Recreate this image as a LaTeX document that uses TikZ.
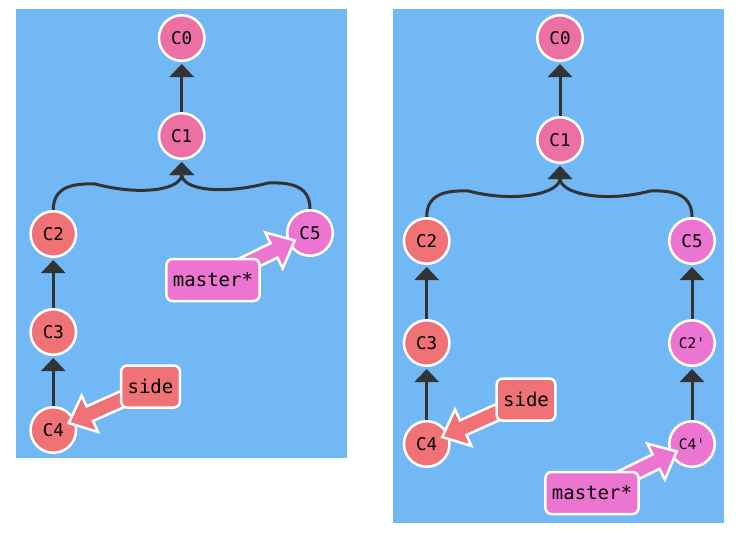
\documentclass[tikz,border=0pt]{standalone}
\usepackage{fontspec}
\setmonofont{DejaVu Sans Mono}
\usetikzlibrary{arrows.meta,calc}
\definecolor{bgblue}{RGB}{113,184,245}
\definecolor{rootpink}{RGB}{237,112,165}
\definecolor{sidered}{RGB}{239,114,118}
\definecolor{masterpink}{RGB}{236,117,209}
\definecolor{edgegray}{RGB}{51,51,51}
\pgfdeclarelayer{front}
\pgfsetlayers{main,front}
\newcommand{\branchptr}[3]{%
  \coordinate (ptip) at ($(#2)!17pt!(#1)$);
  \coordinate (pbase) at ($(ptip)!23pt!(#1)$);
  \filldraw[fill=#3,draw=white,line width=2.5pt]
    ($(#1)!8pt!90:(#2)$) -- ($(pbase)!8pt!90:(ptip)$) -- ($(pbase)!20pt!90:(ptip)$) -- (ptip)
    -- ($(pbase)!20pt!-90:(ptip)$) -- ($(pbase)!8pt!-90:(ptip)$) -- ($(#1)!8pt!-90:(#2)$) -- cycle;
}
\begin{document}
\begin{tikzpicture}[x=1pt,y=-1pt,
    commit/.style={circle,draw=white,line width=2.5pt,minimum size=45.5pt,inner sep=0pt,
      font=\ttfamily\fontsize{17.5}{19}\selectfont},
    rebased/.style={commit,fill=masterpink,font=\ttfamily\fontsize{14.5}{16}\selectfont},
    branch/.style={rounded corners=6pt,draw=white,line width=2.5pt,minimum height=42pt,
      inner xsep=6.5pt,font=\ttfamily\fontsize{19}{21}\selectfont},
    parent/.style={edgegray,line width=3pt,-{Triangle[width=24pt,length=13pt]},shorten >=2pt}]
    \useasboundingbox (0,0) rectangle (736,542);
    \fill[bgblue] (16,9) rectangle (347,458);
    \fill[bgblue] (393,9) rectangle (724,523);
    % before
    \node[commit,fill=rootpink] (lc0) at (181.7,38) {C0};
    \node[commit,fill=rootpink] (lc1) at (181.7,136) {C1};
    \node[commit,fill=sidered] (lc2) at (53.3,234) {C2};
    \node[commit,fill=sidered] (lc3) at (53.3,332) {C3};
    \node[commit,fill=sidered] (lc4) at (53.3,430) {C4};
    \node[commit,fill=masterpink] (lc5) at (310,233) {C5};
    \draw[parent] (lc1) -- (lc0);
    \draw[parent] (lc3) -- (lc2);
    \draw[parent] (lc4) -- (lc3);
    \draw[parent] (lc2.north) .. controls +(0,-22) and +(-25,-1) .. ++(42,-26)
        .. controls +(45,12) and +(0,30) .. (lc1.south);
    \draw[parent] (lc5.north) .. controls +(0,-22) and +(25,-1) .. ++(-42,-26)
        .. controls +(-45,12) and +(0,30) .. (lc1.south);
    \begin{pgfonlayer}{front}
    \node[branch,fill=masterpink] (lmaster) at (213,280) {master*};
    \node[branch,fill=sidered] (lside) at (150.5,386.5) {side};
    \end{pgfonlayer}
    \branchptr{lmaster}{lc5}{masterpink}
    \branchptr{lside}{lc4}{sidered}
    % after
    \node[commit,fill=rootpink] (rc0) at (560,38) {C0};
    \node[commit,fill=rootpink] (rc1) at (560,140) {C1};
    \node[commit,fill=sidered] (rc2) at (426.7,241) {C2};
    \node[commit,fill=sidered] (rc3) at (426.7,343) {C3};
    \node[commit,fill=sidered] (rc4) at (426.7,444) {C4};
    \node[commit,fill=masterpink] (rc5) at (692,241) {C5};
    \node[rebased] (rc2p) at (692,343) {C2'};
    \node[rebased] (rc4p) at (692,444) {C4'};
    \draw[parent] (rc1) -- (rc0);
    \draw[parent] (rc3) -- (rc2);
    \draw[parent] (rc4) -- (rc3);
    \draw[parent] (rc2p) -- (rc5);
    \draw[parent] (rc4p) -- (rc2p);
    \draw[parent] (rc2.north) .. controls +(0,-22) and +(-25,-1) .. ++(42,-26)
        .. controls +(45,12) and +(0,30) .. (rc1.south);
    \draw[parent] (rc5.north) .. controls +(0,-22) and +(25,-1) .. ++(-42,-26)
        .. controls +(-45,12) and +(0,30) .. (rc1.south);
    \begin{pgfonlayer}{front}
    \node[branch,fill=sidered] (rside) at (526,399.5) {side};
    \node[branch,fill=masterpink] (rmaster) at (592,493) {master*};
    \end{pgfonlayer}
    \branchptr{rside}{rc4}{sidered}
    \branchptr{rmaster}{rc4p}{masterpink}
\end{tikzpicture}
\end{document}
